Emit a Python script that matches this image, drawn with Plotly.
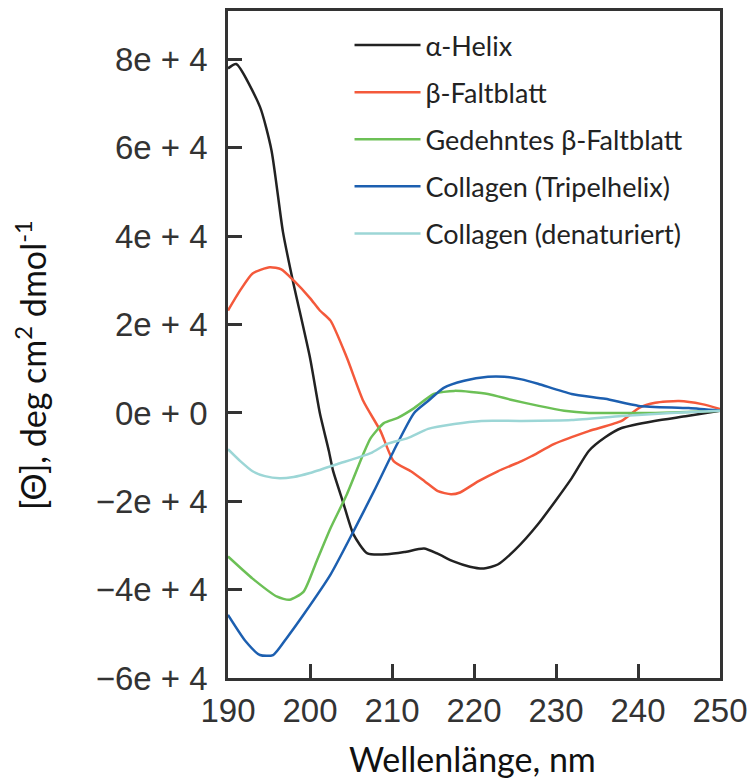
import plotly.graph_objects as go

# Wavelengths (nm) and mean residue ellipticity values for each structure
helix_x = [190, 191, 193.9, 195.3, 196.7, 197.9, 200, 201.2, 202.3, 202.8, 204, 205.3, 207, 209.4, 211.5, 213.9, 215.5, 217.5, 219.5, 221.2, 222.9, 225, 227.8, 231.9, 234, 236, 238, 242, 246, 250]
helix_y = [78000, 79000, 69300, 59500, 41000, 30000, 12500, 0, -8600, -13000, -20000, -27500, -31800, -32000, -31500, -30700, -31800, -33600, -34800, -35200, -34300, -31000, -25200, -14800, -8600, -5500, -3400, -1800, -700, 500]

beta_x = [190, 191.5, 193, 195.1, 196.5, 198, 200, 201.2, 202.5, 204.5, 206.5, 208.6, 210.2, 212.3, 214, 215.6, 217.2, 218.3, 220.5, 222.9, 225.8, 227, 229.8, 234, 238, 240.1, 242.1, 245, 247.8, 250]
beta_y = [23200, 27800, 31600, 33000, 32500, 30000, 26000, 23200, 20900, 12500, 2700, -4100, -10900, -13200, -15500, -17700, -18400, -18000, -15500, -13200, -10900, -9800, -7000, -4100, -1800, 1100, 2300, 2700, 2000, 900]

ext_x = [190, 193, 196, 197.5, 199.2, 200.8, 202.5, 204.5, 206.5, 207.4, 209, 210.7, 212.7, 215.1, 217.6, 221.7, 224.5, 227.9, 231, 234, 238, 242.1, 246, 250]
ext_y = [-32500, -37500, -41600, -42300, -40500, -33600, -26100, -18400, -9300, -5700, -2300, -1100, 1100, 4300, 5000, 4300, 3000, 1600, 500, 0, 0, 0, 200, 500]

trip_x = [190, 192.2, 193.9, 195.5, 197.1, 199.2, 202.5, 205.3, 207.8, 210.2, 212.7, 214.4, 216.3, 218.8, 221.7, 223.7, 225.8, 227.8, 231.9, 236, 240.1, 246.2, 250]
trip_y = [-45700, -51800, -54800, -54800, -51100, -45700, -36600, -26800, -17700, -8600, 0, 2700, 5700, 7300, 8200, 8200, 7600, 6600, 4300, 3200, 1600, 1100, 500]

den_x = [190, 191.5, 193, 194.5, 196.3, 198, 200, 203.3, 207.4, 209.4, 211.9, 214.4, 217.6, 220.9, 225.8, 231.9, 238, 244, 250]
den_y = [-8200, -10900, -13200, -14300, -14800, -14500, -13600, -11600, -9100, -7000, -5700, -3600, -2500, -1800, -1800, -1600, -700, 0, 500]

series = [
    ("α-Helix", helix_x, helix_y, "#222222"),
    ("β-Faltblatt", beta_x, beta_y, "#f4593b"),
    ("Gedehntes β-Faltblatt", ext_x, ext_y, "#6cc056"),
    ("Collagen (Tripelhelix)", trip_x, trip_y, "#1c5fb0"),
    ("Collagen (denaturiert)", den_x, den_y, "#9cd6d6"),
]

x_ticks = [190, 200, 210, 220, 230, 240, 250]
y_ticks = [-60000, -40000, -20000, 0, 20000, 40000, 60000, 80000]
y_tick_text = ["−6e + 4", "−4e + 4", "−2e + 4", "0e + 0", "2e + 4", "4e + 4", "6e + 4", "8e + 4"]

fig = go.Figure()
for i, (name, xs, ys, col) in enumerate(series):
    fig.add_trace(go.Scatter(
        x=xs, y=ys, name=name, mode="lines",
        line=dict(color=col, width=2.5, shape="spline", smoothing=0.6),
        legendgroup=f"g{i}",
    ))

axis_common = dict(
    showgrid=False, zeroline=False, showline=True, mirror=True,
    linecolor="#333333", linewidth=2.5,
    ticks="inside", ticklen=14, tickwidth=2.5, tickcolor="#333333",
    tickfont=dict(family="Liberation Sans, Arial, sans-serif", size=33, color="#333333"),
    automargin=False,
)

fig.update_layout(
    width=756, height=778,
    margin=dict(l=228, r=36, t=11, b=100),
    paper_bgcolor="white", plot_bgcolor="white",
    showlegend=True,
    legend=dict(
        x=0.247, y=0.985, xanchor="left", yanchor="top",
        font=dict(family="Lato, sans-serif", size=27, color="#222222"),
        bgcolor="rgba(0,0,0,0)", itemwidth=66,
        tracegroupgap=9, traceorder="grouped",
    ),
    xaxis=dict(range=[190, 250], tickvals=x_ticks, ticklabelstandoff=2, **axis_common),
    yaxis=dict(range=[-60000, 91000], tickvals=y_ticks, ticktext=y_tick_text,
               ticklabelstandoff=11, **axis_common),
    annotations=[
        dict(text="Wellenlänge, nm", xref="paper", yref="paper",
             x=(472 - 228) / 492, y=-(758 - 678) / 667, xanchor="center", yanchor="middle",
             showarrow=False, font=dict(family="Lato, sans-serif", size=34, color="#111111")),
        dict(text="[Θ], deg cm<sup>2</sup> dmol<sup>-1</sup>", xref="paper", yref="paper",
             x=-(228 - 31) / 492, y=(678 - 365) / 667, xanchor="center", yanchor="middle",
             textangle=-90, showarrow=False,
             font=dict(family="Lato, sans-serif", size=34, color="#111111")),
    ],
)

fig.write_html("out.html", config={"displayModeBar": False},
               post_script="document.body.style.margin='0';")
